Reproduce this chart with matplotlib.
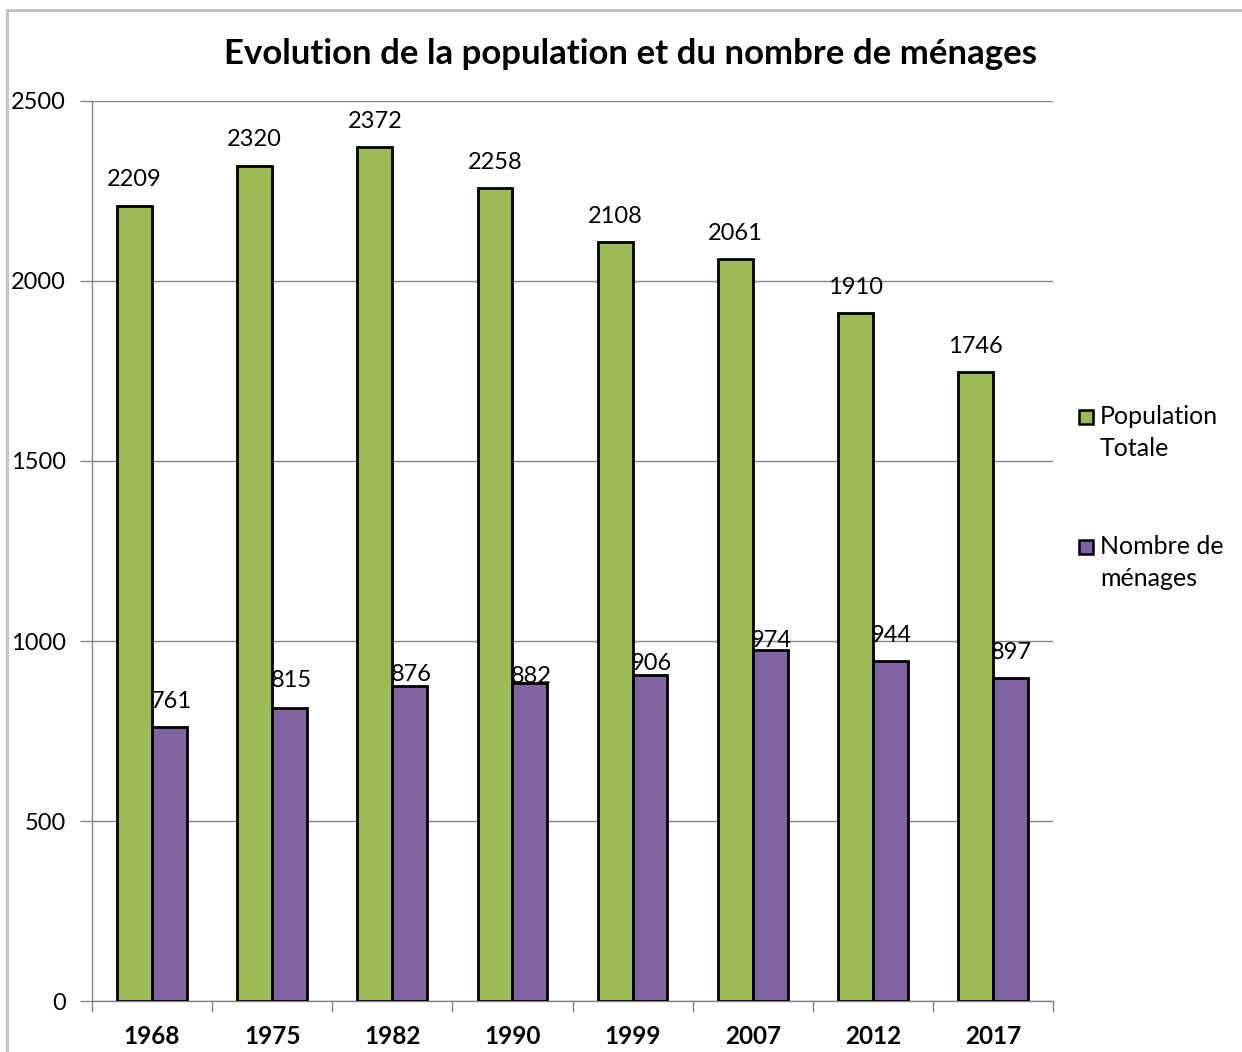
import matplotlib
matplotlib.use("Agg")
import matplotlib.pyplot as plt
import numpy as np
from matplotlib.patches import Rectangle

years = ["1968", "1975", "1982", "1990", "1999", "2007", "2012", "2017"]
population = [2209, 2320, 2372, 2258, 2108, 2061, 1910, 1746]
menages = [761, 815, 876, 882, 906, 974, 944, 897]
series_names = ["Population\nTotale", "Nombre de\nménages"]
title = "Evolution de la population et du nombre de ménages"

# label placement (style): gap in pixels between bar top and label centre
pop_label_gap = [26, 26, 26, 26, 26, 26, 26, 26]
men_label_gap = [26, 27, 11, 7, 11, 10, 26, 26]

plt.rcParams['font.family'] = ['Lato', 'DejaVu Sans']

W, H = 1242, 1052
PX2PT = 72 / 100
fig = plt.figure(figsize=(W / 100, H / 100), dpi=100)
fig.patch.set_facecolor("white")
# outer chart border (right and bottom edges fall outside the picture)
fig.add_artist(Rectangle((7 / W, -0.05), 1.1, (H - 10) / H + 0.05, transform=fig.transFigure,
                         fill=False, edgecolor="#bfbfbf", linewidth=2))

ax = fig.add_axes([92 / W, (H - 1001) / H, (1053 - 92) / W, (1001 - 101) / H])
x = np.arange(len(years))
bw = 0.29
green = "#9BBB59"
purple = "#8064A2"
colors = [green, purple]
b1 = ax.bar(x - bw / 2, population, bw, color=green, edgecolor="black", linewidth=2.0, zorder=3)
b2 = ax.bar(x + bw / 2, menages, bw, color=purple, edgecolor="black", linewidth=2.0, zorder=3)

for rect, v, g in zip(b1, population, pop_label_gap):
    ax.annotate(str(v), (rect.get_x() + rect.get_width() / 2, v), xytext=(0, g * PX2PT),
                textcoords="offset points", ha="center", va="center", fontsize=17, zorder=4)
for rect, v, g in zip(b2, menages, men_label_gap):
    ax.annotate(str(v), (rect.get_x() + rect.get_width() / 2, v), xytext=(1, g * PX2PT),
                textcoords="offset points", ha="center", va="center", fontsize=17, zorder=4)

ax.set_xlim(-0.5, len(years) - 0.5)
ax.set_ylim(0, 2500)
ax.set_yticks([0, 500, 1000, 1500, 2000, 2500])
ax.yaxis.grid(True, color="#868686", linewidth=1)
ax.set_axisbelow(True)
for s in ["top", "right"]:
    ax.spines[s].set_visible(False)
for s in ["left", "bottom"]:
    ax.spines[s].set_color("#868686")
    ax.spines[s].set_linewidth(1)

ax.set_xticks(x)
ax.set_xticklabels(years, fontsize=17.5, fontweight="bold")
ax.tick_params(axis="x", length=0, pad=17)
ax.set_xticks(np.arange(-0.5, len(years)), minor=True)
ax.tick_params(axis="x", which="minor", length=8, color="#868686", width=1)
ax.tick_params(axis="y", length=9, color="#868686", width=1, labelsize=17, pad=10)

fig.text((220 + 1040) / 2 / W, 1 - 54 / H, title, ha="center", va="center",
         fontsize=25, fontweight="bold")

# legend drawn manually: square aligned with the first line of each two-line label
leg_rows = [(416, 449), (546, 578)]
for (y1, y2), name, c in zip(leg_rows, series_names, colors):
    fig.add_artist(Rectangle((1079 / W, 1 - (y1 + 8) / H), 14 / W, 14 / H,
                             transform=fig.transFigure, facecolor=c,
                             edgecolor="black", linewidth=1.8))
    l1, l2 = name.split("\n")
    fig.text(1100 / W, 1 - y1 / H, l1, ha="left", va="center", fontsize=18)
    fig.text(1100 / W, 1 - y2 / H, l2, ha="left", va="center", fontsize=18)

fig.savefig("out.png", dpi=100, facecolor="white")
